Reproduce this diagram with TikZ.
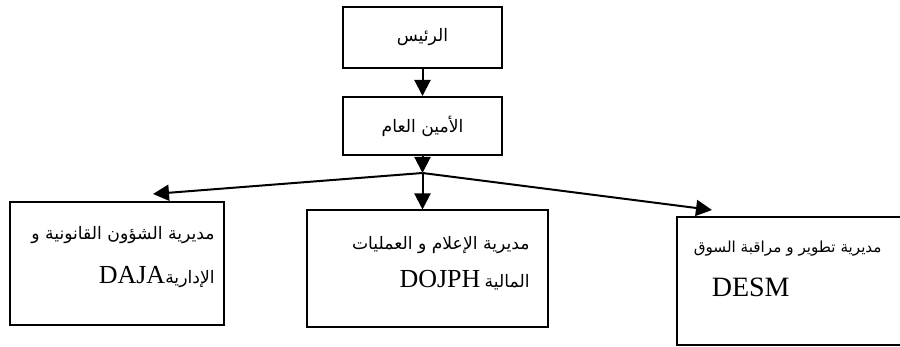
\documentclass[tikz,border=0pt]{standalone}
\usepackage{fontspec}
\setmainfont{Liberation Serif}
\newfontfamily\arabicfont[Script=Arabic]{DejaVu Sans}
\TeXXeTstate=1
\usetikzlibrary{arrows.meta,positioning}

\begin{document}
\begin{tikzpicture}[
    x=0.5pt, y=-0.5pt,
    node distance=13.5pt,
    box/.style={rectangle, draw, line width=1pt, inner sep=0pt, font=\arabicfont\fontsize{8.6}{11}\selectfont},
    txt/.style={inner sep=0pt, align=right, font=\fontsize{8.6}{22}\selectfont},
    arrow/.style={-{Triangle[length=8pt,width=8pt]}, line width=1pt}
]
    \clip (0,0) rectangle (900,347);
    \node[box, minimum width=79.5pt, minimum height=30.5pt] (pres) at (422.5,37.5) {\beginR الرئيس\endR};
    \node[box, minimum width=79.5pt, minimum height=29pt, below=of pres] (gen) {\beginR الأمين العام\endR};
    \node[box, minimum width=107pt, minimum height=61.5pt] (daja) at (117,264) {};
    \node[box, minimum width=120.5pt, minimum height=58.5pt] (dojph) at (427,269) {};
    \node[box, minimum width=114pt, minimum height=64pt] (desm) at (791,281) {};

    % texts of the three directorates
    \node[txt, anchor=north east] (daja-t) at (215,226)
        {{\arabicfont\beginR مديرية الشؤون القانونية و\endR}\\
         \beginR{\arabicfont الإدارية}\beginL{\fontsize{13}{22}\selectfont DAJA}\endL\endR};
    \node[txt, anchor=north east, font=\fontsize{8.6}{19}\selectfont] (dojph-t) at (530,236)
        {{\arabicfont\beginR مديرية الإعلام و العمليات\endR}\\
         \beginR{\arabicfont المالية} \beginL{\fontsize{13}{19}\selectfont DOJPH}\endL\endR};
    \node[txt, anchor=north east, align=left, font=\fontsize{7.6}{22}\selectfont] (desm-t) at (882,241)
        {{\arabicfont\beginR مديرية تطوير و مراقبة السوق\endR}\\
         \hspace*{9pt}{\fontsize{14}{22}\selectfont DESM}};

    \coordinate (split) at (422.5,173);
    \coordinate (tipL) at (153,194);
    \coordinate (tipR) at (712,210);

    \draw[arrow] (pres) -- (gen);
    \draw[arrow] (gen) -- (split);
    \draw[arrow] (split) -- (tipL);
    \draw[arrow] (split) -- (split |- dojph.north);
    \draw[arrow] (split) -- (tipR);
\end{tikzpicture}
\end{document}
